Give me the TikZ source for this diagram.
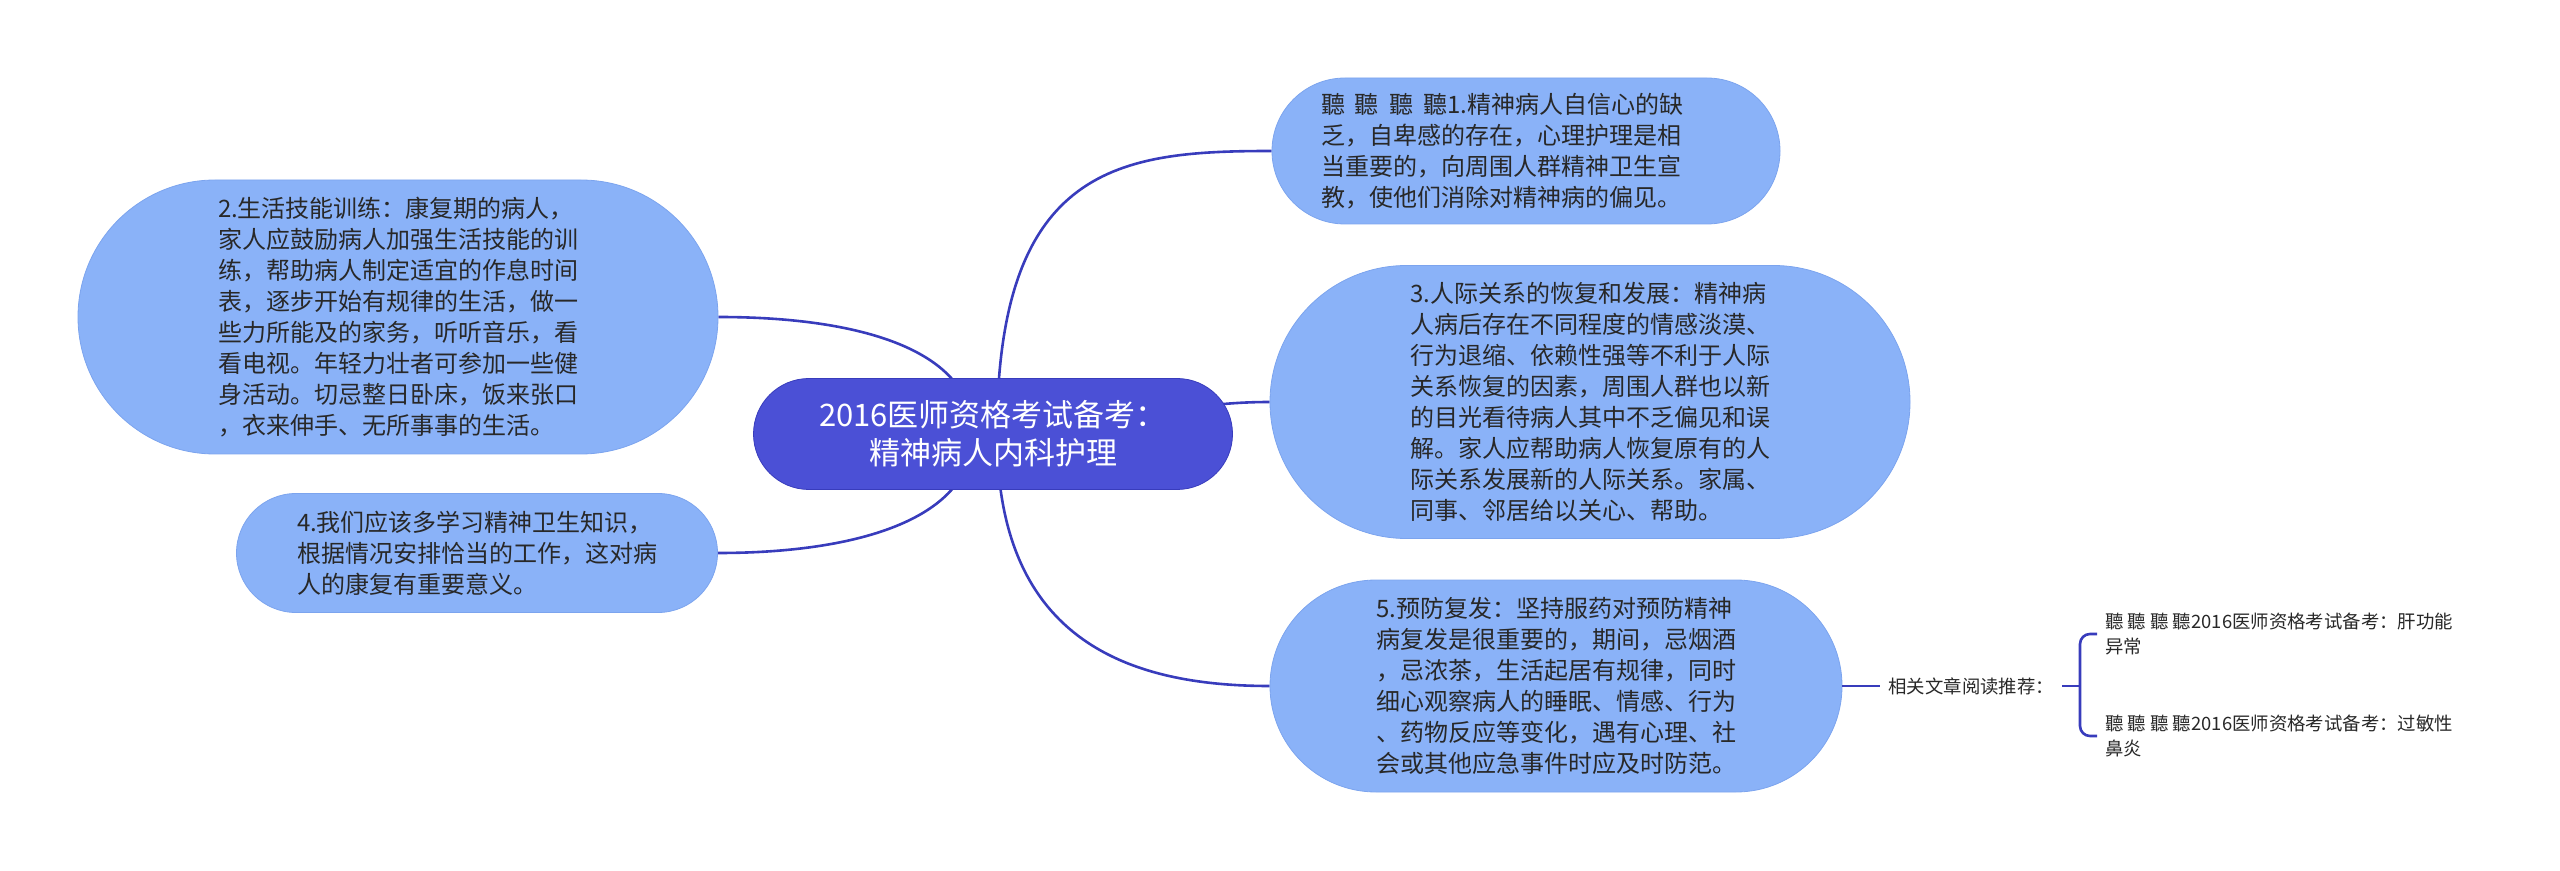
\documentclass[tikz,border=0pt]{standalone}
\usepackage{fontspec}
\setmainfont{Noto Sans CJK SC}
\usetikzlibrary{shapes.misc,backgrounds}
\definecolor{rootblue}{RGB}{75,80,214}
\definecolor{topicblue}{RGB}{138,178,248}
\definecolor{topicedge}{RGB}{124,164,238}
\definecolor{linkblue}{RGB}{56,60,188}
\definecolor{textgray}{RGB}{40,40,40}

\begin{document}
\begin{tikzpicture}[x=0.5pt,y=0.5pt,
  topic/.style={rounded rectangle, fill=topicblue, draw=topicedge, line width=0.4pt,
    text=textgray, align=left, font=\fontsize{12}{15.5}\selectfont, inner sep=0pt},
  link/.style={draw=linkblue, line width=1.3pt},
  small/.style={text=textgray, align=left, font=\fontsize{9.2}{12.4}\selectfont,
    inner xsep=4pt, inner ysep=0pt}]

 % Fix the page size
 \useasboundingbox (0,0) rectangle (2560,-871);

 % Draw the central topic
 \node[rounded rectangle, fill=rootblue, draw=linkblue, line width=0.4pt, text=white,
   align=center, font=\fontsize{15.5}{19}\selectfont, minimum width=239.5pt,
   minimum height=55.5pt, inner sep=0pt] (root) at (993,-434)
   {2016医师资格考试备考：\\精神病人内科护理};

 % Draw the subtopics on the right
 \node[topic, text width=205pt, minimum width=254pt, minimum height=73pt] (n1) at (1526,-151)
   {聽\hspace{5pt}聽\hspace{5pt}聽\hspace{5pt}聽1.精神病人自信心的缺\\乏，自卑感的存在，心理护理是相\\当重要的，向周围人群精神卫生宣\\教，使他们消除对精神病的偏见。};
 \node[topic, minimum width=320pt, minimum height=136.5pt] (n3) at (1590,-402)
   {3.人际关系的恢复和发展：精神病\\人病后存在不同程度的情感淡漠、\\行为退缩、依赖性强等不利于人际\\关系恢复的因素，周围人群也以新\\的目光看待病人其中不乏偏见和误\\解。家人应帮助病人恢复原有的人\\际关系发展新的人际关系。家属、\\同事、邻居给以关心、帮助。};
 \node[topic, minimum width=286pt, minimum height=106pt] (n5) at (1556,-686)
   {5.预防复发：坚持服药对预防精神\\病复发是很重要的，期间，忌烟酒\\，忌浓茶，生活起居有规律，同时\\细心观察病人的睡眠、情感、行为\\、药物反应等变化，遇有心理、社\\会或其他应急事件时应及时防范。};

 % Draw the subtopics on the left
 \node[topic, minimum width=320pt, minimum height=137pt] (n2) at (398,-317)
   {2.生活技能训练：康复期的病人，\\家人应鼓励病人加强生活技能的训\\练，帮助病人制定适宜的作息时间\\表，逐步开始有规律的生活，做一\\些力所能及的家务，听听音乐，看\\看电视。年轻力壮者可参加一些健\\身活动。切忌整日卧床，饭来张口\\，衣来伸手、无所事事的生活。};
 \node[topic, minimum width=240.5pt, minimum height=59.5pt] (n4) at (477,-553)
   {4.我们应该多学习精神卫生知识，\\根据情况安排恰当的工作，这对病\\人的康复有重要意义。};

 % Related reading
 \node[small, anchor=west] (rel) at (1880,-686) {相关文章阅读推荐：};
 \node[small, anchor=west] (leaf1) at (2097,-634)
   {聽 聽 聽 聽2016医师资格考试备考：肝功能\\异常};
 \node[small, anchor=west] (leaf2) at (2097,-736)
   {聽 聽 聽 聽2016医师资格考试备考：过敏性\\鼻炎};
 \coordinate (fork) at (2080,-686);

 % Connectors (behind the nodes)
 \coordinate (rootL) at (973,-434);
 \coordinate (rootR) at (997,-434);
 \begin{scope}[on background layer]
  \draw[link] (rootR) .. controls +(0,270) and +(-150,0) .. (n1.west);
  \draw[link] (rootR) to[out=0,in=180] (n3.west);
  \draw[link] (rootR) .. controls +(0,-200) and +(-150,0) .. (n5.west);
  \draw[link] (rootL) .. controls +(0,84) and +(142,0) .. (n2.east);
  \draw[link] (rootL) .. controls +(0,-84) and +(142,0) .. (n4.east);
 \end{scope}
 \draw[link] (n5.east) -- (rel.west);
 \draw[link] (rel.east) -- (fork);
 \draw[link, rounded corners=5pt] (leaf1.west) -| (fork) |- (leaf2.west);

\end{tikzpicture}
\end{document}
